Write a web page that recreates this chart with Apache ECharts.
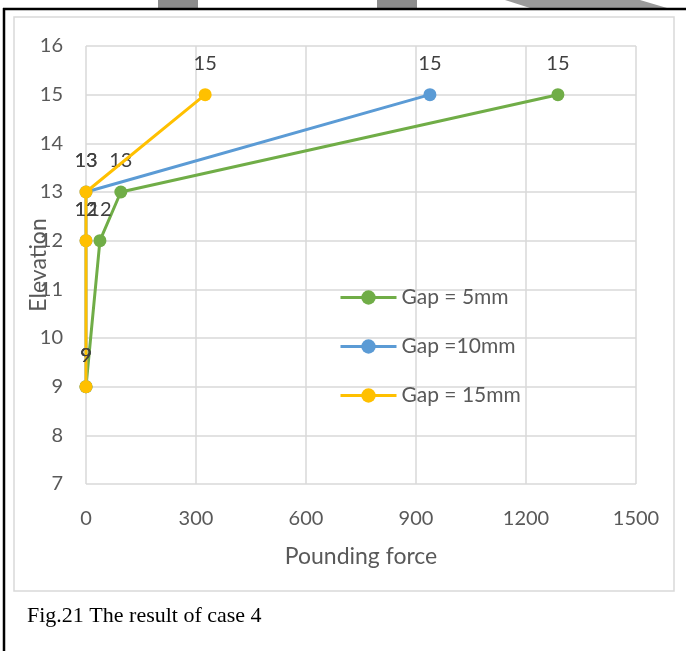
<!DOCTYPE html>
<html>
<head>
<meta charset="utf-8">
<script src="https://cdn.jsdelivr.net/npm/echarts@6/dist/echarts.min.js"></script>
<style>html,body{margin:0;padding:0;background:#fff}#c{width:686px;height:651px}</style>
</head>
<body>
<div id="c"></div>
<script>
var seriesNames = ['Gap = 5mm', 'Gap =10mm', 'Gap = 15mm'];
var elevations = [9, 12, 13, 15];
var force5mm = [0, 38, 95, 1287];
var force10mm = [0, 0, 0, 938];
var force15mm = [0, 0, 0, 325];
var xTicks = [0, 300, 600, 900, 1200, 1500];
var yTicks = [7, 8, 9, 10, 11, 12, 13, 14, 15, 16];
var colors = ['#70AD47', '#5B9BD5', '#FFC000'];

var font = 'Lato, "Open Sans", sans-serif';
function pts(xs) { return xs.map(function (x, i) { return [x, elevations[i]]; }); }
var allData = [force5mm, force10mm, force15mm];

var chart = echarts.init(document.getElementById('c'));
chart.setOption({
  animation: false,
  backgroundColor: '#fff',
  color: colors,
  grid: { left: 86, right: 50, top: 46, bottom: 167, containLabel: false },
  xAxis: {
    type: 'value', min: xTicks[0], max: xTicks[xTicks.length - 1], interval: 300,
    name: 'Pounding force', nameLocation: 'middle', nameGap: 61, nameMoveOverlap: false,
    nameTextStyle: { fontFamily: font, fontSize: 23, color: '#595959' },
    axisLine: { show: false }, axisTick: { show: false },
    axisLabel: { fontFamily: font, fontSize: 20, color: '#595959', margin: 25,
      formatter: function (v) { return String(v); } },
    splitLine: { lineStyle: { color: '#d9d9d9', width: 1.5 } }
  },
  yAxis: {
    type: 'value', min: yTicks[0], max: yTicks[yTicks.length - 1], interval: 1,
    name: 'Elevation', nameLocation: 'middle', nameGap: 36, nameMoveOverlap: false,
    nameTextStyle: { fontFamily: font, fontSize: 23, color: '#595959' },
    axisLine: { show: false }, axisTick: { show: false },
    axisLabel: { fontFamily: font, fontSize: 20, color: '#595959', margin: 23 },
    splitLine: { lineStyle: { color: '#d9d9d9', width: 1.5 } }
  },
  legend: {
    orient: 'vertical', left: 334, top: 282, itemGap: 28,
    itemWidth: 56, itemHeight: 18,
    lineStyle: { width: 3 },
    textStyle: { fontFamily: font, fontSize: 21, color: '#595959' },
    data: seriesNames
  },
  series: seriesNames.map(function (n, i) {
    return {
      name: n, type: 'line', data: pts(allData[i]),
      symbol: 'circle', symbolSize: 13, z: 2 + i,
      lineStyle: { width: 3, color: colors[i] },
      itemStyle: { color: colors[i] },
      label: { show: true, position: 'top', distance: 15,
        formatter: function (p) { return p.value[1]; },
        fontFamily: font, fontSize: 20, color: '#404040' }
    };
  }),
  graphic: [
    { type: 'rect', shape: { x: 158, y: 0, width: 40, height: 8 }, style: { fill: '#8c8c8c' } },
    { type: 'rect', shape: { x: 377, y: 0, width: 40, height: 8 }, style: { fill: '#8c8c8c' } },
    { type: 'polygon', shape: { points: [[505, 0], [640, 0], [667, 8], [530, 8]] }, style: { fill: '#9a9a9a' } },
    { type: 'line', shape: { x1: 3, y1: 9, x2: 686, y2: 9 }, style: { stroke: '#000', lineWidth: 2.5 } },
    { type: 'line', shape: { x1: 4, y1: 8, x2: 4, y2: 651 }, style: { stroke: '#000', lineWidth: 2.5 } },
    { type: 'rect', shape: { x: 14, y: 17, width: 660, height: 574 }, style: { fill: 'none', stroke: '#d9d9d9', lineWidth: 1.5 } },
    { type: 'text', left: 27, top: 605, style: { text: 'Fig.21 The result of case 4', fontFamily: '"Liberation Serif", "DejaVu Serif", serif', fontSize: 22, fill: '#000' } }
  ]
});
</script>
</body>
</html>
